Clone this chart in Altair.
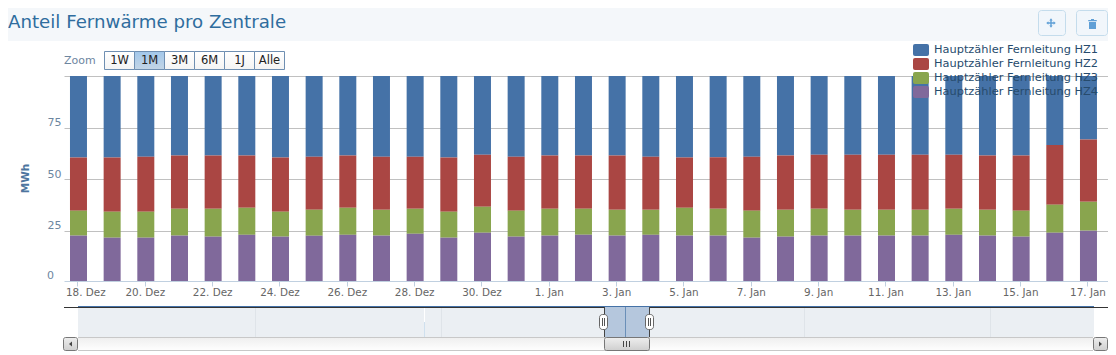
import altair as alt
import pandas as pd

days = ["18. Dez","19. Dez","20. Dez","21. Dez","22. Dez","23. Dez","24. Dez","25. Dez","26. Dez","27. Dez",
        "28. Dez","29. Dez","30. Dez","31. Dez","1. Jan","2. Jan","3. Jan","4. Jan","5. Jan","6. Jan","7. Jan",
        "8. Jan","9. Jan","10. Jan","11. Jan","12. Jan","13. Jan","14. Jan","15. Jan","16. Jan","17. Jan"]
hz1 = [39.5,39.5,39.2,38.6,38.6,38.6,39.5,39.2,38.6,39.2,39.2,39.5,38.2,39.2,38.6,38.6,38.6,39.2,39.5,39.5,39.2,38.6,38.2,38.2,38.2,38.2,38.2,38.6,38.6,33.4,30.8]
hz2 = [25.8,26.3,26.6,25.8,25.8,25.3,26.3,25.7,25.3,25.7,25.2,26.3,25.2,26.1,25.8,25.8,26.3,25.7,24.4,25.0,26.1,26.3,26.2,26.7,26.7,26.7,26.2,26.3,26.7,29.0,30.2]
hz3 = [12.1,12.6,12.6,13.0,13.5,13.1,12.1,12.5,13.1,12.5,12.1,12.6,12.6,12.6,13.0,12.6,12.5,12.1,13.5,13.0,13.1,13.0,13.0,12.5,12.5,12.5,12.6,12.5,12.6,13.6,14.0]
hz4 = [22.6,21.6,21.6,22.6,22.1,23.0,22.1,22.6,23.0,22.6,23.5,21.6,24.0,22.1,22.6,23.0,22.6,23.0,22.6,22.6,21.6,22.1,22.6,22.6,22.6,22.6,23.0,22.6,22.1,24.0,25.0]
names = ["Hauptzähler Fernleitung HZ1","Hauptzähler Fernleitung HZ2","Hauptzähler Fernleitung HZ3","Hauptzähler Fernleitung HZ4"]
colors = ["#4572A7","#AA4643","#89A54E","#80699B"]
tick_days = list(range(0, 31, 2))
y_ticks = [25, 50, 75, 100]
range_buttons = ["1W","1M","3M","6M","1J","Alle"]

rows = []
for i, d in enumerate(days):
    for n, s in zip(names, (hz1, hz2, hz3, hz4)):
        rows.append({"day": i, "series": n, "value": s[i]})
df = pd.DataFrame(rows)

OX, OY = 64, 76
FONT = "DejaVu Sans"
one = pd.DataFrame({"a": [1]})

def rect(x0, y0, x1, y1, fill, stroke=None, r=0, sw=1):
    kw = dict(fill=fill, strokeWidth=sw if stroke else 0)
    if stroke:
        kw["stroke"] = stroke
    if r:
        kw["cornerRadius"] = r
    return alt.Chart(one).mark_rect(**kw).encode(
        x=alt.value(x0 - OX), x2=alt.value(x1 - OX), y=alt.value(y0 - OY), y2=alt.value(y1 - OY))

def text(x, y, s, size=11, color="#333333", align="center", weight="normal"):
    return alt.Chart(one).mark_text(text=s, font=FONT, fontSize=size, color=color, align=align,
                                    baseline="middle", fontWeight=weight).encode(
        x=alt.value(x - OX), y=alt.value(y - OY))

def icon(x, y, path, size, color):
    return alt.Chart(one).mark_point(shape=path, size=size, filled=True, fill=color, opacity=1, strokeWidth=0).encode(
        x=alt.value(x - OX), y=alt.value(y - OY))

def vgrad(c0, c1):
    return alt.LinearGradient(gradient="linear", x1=0, x2=0, y1=0, y2=1,
                              stops=[alt.GradientStop(offset=0, color=c0), alt.GradientStop(offset=1, color=c1)])

PANEL = "#f4f7fa"
behind = [
    rect(8, 8, 1108, 41, PANEL),
]
# header
head = [
    text(8, 23, "Anteil Fernwärme pro Zentrale", size=18.2, color="#2f6d9e", align="left"),
    rect(1038.5, 10.5, 1065.5, 35.5, "#f1f6fb", "#c4dcec", 3),
    rect(1076.5, 10.5, 1107.5, 35.5, "#f1f6fb", "#c4dcec", 3),
    icon(1051, 23, "M0,-1 L.35,-.55 H.15 V-.15 H.55 V-.35 L1,0 L.55,.35 V.15 H.15 V.55 H.35 L0,1 L-.35,.55 H-.15 V.15 H-.55 V.35 L-1,0 L-.55,-.35 V-.15 H-.15 V-.55 H-.35 Z", 90, "#5f9fd6"),
    icon(1092.5, 24, "M-.85,-.8 H-.3 V-1 H.3 V-.8 H.85 V-.55 H-.85 Z M-.7,-.4 H.7 V1 H-.7 Z", 100, "#5f9fd6"),
]
# range selector
sel = [text(64, 61, "Zoom", size=11, color="#6D869F", align="left")]
for i, b in enumerate(range_buttons):
    x0 = 104.5 + 30 * i
    fill = vgrad("#a2c7ea", "#c3d5e6") if b == "1M" else vgrad("#ffffff", "#f4f4f4")
    sel.append(rect(x0, 51.5, x0 + 30, 69.5, fill, "#6f8fb2"))
    sel.append(text(x0 + 15, 60.5, b, size=11.5, color="#222222"))

# navigator and scrollbar
nav = [
    rect(78, 307, 1094, 337, "#ebeff3"),
    rect(255, 307, 256, 337, "#dfe4e9"),
    rect(441, 307, 442, 337, "#dfe4e9"),
    rect(804, 307, 805, 337, "#dfe4e9"),
    rect(990, 307, 991, 337, "#dfe4e9"),
    rect(424, 307, 425, 322, "#ffffff"),
    rect(424, 322, 425, 337, "#cfe0ee"),
    rect(604, 307, 649, 337, "#b5c7dd"),
    rect(625, 307, 626, 337, "#6a8fb8"),
    rect(78, 306, 1094, 307, "#4572A7"),
    rect(64, 307, 604, 308, "#333333"),
    rect(649, 307, 1108, 308, "#333333"),
    rect(604, 307, 605, 337, "#444444"),
    rect(649, 307, 650, 337, "#444444"),
    rect(78, 337, 1093, 351, vgrad("#eeeeee", "#ffffff")),
    rect(78, 337, 1093, 338, "#c8c8c8"),
    rect(78, 350, 1093, 351, "#c8c8c8"),
    rect(63.5, 337.5, 77.5, 350.5, vgrad("#eeeeee", "#cfcfcf"), "#777777", 2),
    rect(1093.5, 337.5, 1107.5, 350.5, vgrad("#eeeeee", "#cfcfcf"), "#777777", 2),
    icon(70.5, 344, "M.6,-1 V1 L-.6,0 Z", 25, "#444444"),
    icon(1100.5, 344, "M-.6,-1 V1 L.6,0 Z", 25, "#444444"),
    rect(604.5, 337.5, 649.5, 350.5, vgrad("#eeeeee", "#cfcfcf"), "#777777", 2),
    rect(623, 341, 624, 347, "#444444"),
    rect(626, 341, 627, 347, "#444444"),
    rect(629, 341, 630, 347, "#444444"),
    rect(599.5, 314.5, 607.5, 329.5, "#ffffff", "#666666", 3),
    rect(602, 318, 603, 326, "#555555"),
    rect(604, 318, 605, 326, "#555555"),
    rect(645.5, 314.5, 653.5, 329.5, "#ffffff", "#666666", 3),
    rect(648, 318, 649, 326, "#555555"),
    rect(650, 318, 651, 326, "#555555"),
]

label_expr = "[" + ",".join('"%s"' % d for d in days) + "][datum.value]"
legend_path = ("M-.75,-.75 H.75 Q1,-.75 1,-.5 V.5 Q1,.75 .75,.75 H-.75 Q-1,.75 -1,.5 V-.5 Q-1,-.75 -.75,-.75 Z")
y_scale = alt.Scale(domain=[0.6, 100], nice=False, zero=False)
y_axis = alt.Axis(values=y_ticks, title="MWh", titleFont=FONT, titleFontSize=10.5, titleFontWeight="bold",
                  titleColor="#4D759E", titleX=-34, titleY=102, domain=False, ticks=False,
                  grid=True, gridColor="#C0C0C0",
                  labelExpr="datum.value == 100 ? '' : datum.label",
                  labelFont=FONT, labelFontSize=11, labelColor="#6D869F", labelAlign="left",
                  labelPadding=17, labelOffset=-5)

bars = alt.Chart(df).mark_bar(size=17, clip=True).encode(
    x=alt.X("day:Q", scale=alt.Scale(domain=[-0.43, 30.58], nice=False, zero=False, padding=0),
            axis=alt.Axis(values=tick_days, labelExpr=label_expr, title=None, grid=False,
                          domainColor="#C0D0E0", tickColor="#C0D0E0", tickSize=5, tickOffset=-1,
                          labelFont=FONT, labelFontSize=10.4, labelColor="#666666", labelPadding=1,
                          labelFlush=15, labelFlushOffset=12, labelOverlap=False)),
    y=alt.Y("value:Q", stack="zero", scale=y_scale, axis=y_axis),
    color=alt.Color("series:N", scale=alt.Scale(domain=names, range=colors),
                    legend=alt.Legend(title=None, orient="none", legendX=849, legendY=-34, symbolType=legend_path,
                                      symbolSize=256, symbolStrokeWidth=0, symbolOpacity=1, labelOffset=5,
                                      labelFont=FONT, labelFontSize=11.36, labelColor="#274B6D", rowPadding=0,
                                      padding=0, labelLimit=300)),
)

zero_label = alt.Chart(one).mark_text(text="0", font=FONT, fontSize=11, color="#6D869F", align="left",
                                      baseline="middle", dy=-6).encode(
    x=alt.value(-17), y=alt.Y(datum=0, scale=y_scale, axis=y_axis))

chart = alt.layer(*behind, *head, *sel, bars, zero_label, *nav).properties(
    width=1044, height=205,
    padding={"left": 56, "top": 68, "right": 0, "bottom": 70},
    autosize=alt.AutoSizeParams(type="none"),
    background="#ffffff",
).configure_view(stroke=None)

chart.save("out.html", embed_options={"renderer": "svg", "actions": False})
